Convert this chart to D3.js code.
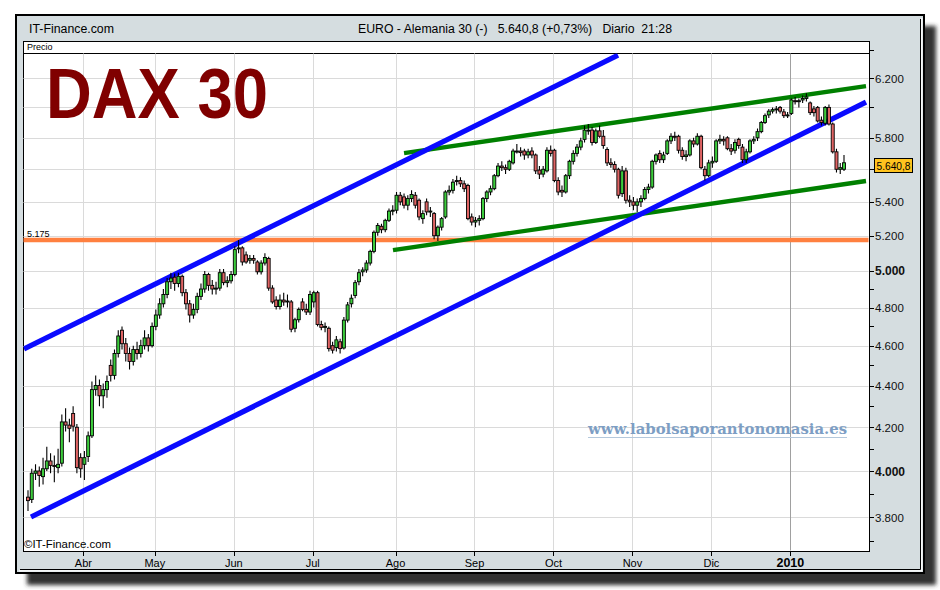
<!DOCTYPE html>
<html><head><meta charset="utf-8">
<script src="https://cdn.jsdelivr.net/npm/d3@7/dist/d3.min.js"></script>
<style>body{margin:0;background:#fff}svg{display:block}</style>
</head><body><svg id="c" width="940" height="590"></svg>
<script>
// ---------- DATA ----------
const monthLabels = ["Abr","May","Jun","Jul","Ago","Sep","Oct","Nov","Dic","2010"];
const monthStart  = [15,34,55,76,98,119,140,161,182,203];   // candle index of first session of each month
// daily candles [open, high, low, close]
const ohlc = [
// Mar
[3885,3915,3825,3870],[3875,4010,3860,3990],[3990,4030,3960,4000],[4000,4020,3930,3980],[3975,4060,3940,4010],
[4010,4110,4000,4045],[4045,4080,3990,4025],[4025,4070,3950,4020],[4015,4100,3990,4030],[4035,4260,4020,4225],
[4225,4290,4180,4210],[4210,4240,4130,4195],[4265,4300,4180,4205],[4200,4215,3990,4015],[4060,4080,3970,4010],
// Abr
[4030,4090,3960,4060],[4065,4180,4040,4160],[4160,4420,4150,4380],[4380,4450,4350,4400],[4400,4430,4300,4350],
[4350,4410,4290,4380],[4380,4450,4340,4420],[4500,4530,4420,4450],[4450,4580,4430,4560],[4560,4680,4540,4650],
[4680,4700,4580,4610],[4610,4640,4520,4560],[4560,4590,4480,4520],[4520,4600,4500,4580],[4580,4620,4530,4560],
[4560,4630,4540,4600],[4600,4680,4580,4640],[4640,4660,4570,4600],[4600,4720,4590,4700],
// May
[4700,4790,4680,4760],[4760,4850,4740,4820],[4820,4900,4800,4870],[4870,4960,4850,4940],[4940,4990,4900,4960],
[4965,4985,4890,4930],[4930,4990,4910,4970],[4970,4980,4860,4880],[4880,4900,4790,4820],[4820,4840,4720,4760],
[4760,4820,4740,4790],[4790,4880,4770,4860],[4860,4930,4840,4900],[4900,5000,4880,4980],[4980,4990,4890,4920],
[4920,4950,4870,4900],[4900,4940,4870,4905],[4905,5010,4890,4990],[4990,5010,4920,4935],[4935,4970,4910,4945],
[4945,5000,4930,4980],
// Jun
[4980,5140,4970,5120],[5125,5175,5100,5130],[5130,5140,5030,5050],[5090,5110,5040,5050],[5060,5090,5040,5070],
[5070,5090,5040,5060],[5050,5060,4980,4995],[4995,5060,4980,5044],[5044,5100,5030,5075],[5070,5080,4890,4905],
[4905,4920,4820,4830],[4840,4860,4790,4805],[4805,4870,4790,4840],[4840,4880,4810,4830],[4830,4870,4800,4835],
[4830,4840,4670,4685],[4690,4745,4670,4735],[4735,4800,4720,4790],[4830,4850,4780,4790],[4790,4820,4760,4776],
[4776,4890,4760,4870],
// Jul
[4830,4890,4800,4880],[4880,4890,4700,4710],[4710,4730,4680,4695],[4695,4720,4670,4700],[4690,4700,4570,4585],
[4600,4620,4560,4577],[4590,4650,4570,4630],[4620,4635,4560,4585],[4588,4750,4580,4733],[4733,4830,4720,4814],
[4820,4870,4800,4850],[4865,4950,4850,4935],[4940,5010,4920,4990],[4995,5020,4970,5005],[5005,5060,4990,5044],
[5044,5120,5030,5110],[5110,5230,5100,5220],[5220,5275,5200,5260],[5255,5270,5215,5235],[5235,5300,5220,5290],
[5290,5360,5280,5345],[5345,5380,5320,5350],
// Ago
[5350,5460,5330,5440],[5440,5460,5380,5400],[5430,5450,5360,5380],[5380,5440,5350,5420],[5420,5470,5400,5445],
[5440,5460,5360,5380],[5410,5420,5290,5310],[5300,5350,5270,5330],[5400,5420,5320,5340],[5345,5370,5310,5345],
[5330,5340,5180,5200],[5200,5260,5170,5250],[5250,5310,5230,5300],[5310,5470,5300,5460],[5460,5500,5440,5470],
[5470,5540,5450,5520],[5525,5560,5500,5530],[5530,5550,5490,5510],[5510,5530,5460,5480],[5500,5510,5290,5300],
[5310,5330,5260,5280],
// Sep
[5280,5310,5250,5290],[5290,5320,5260,5300],[5300,5430,5290,5420],[5420,5470,5400,5460],[5460,5500,5440,5480],
[5480,5570,5470,5560],[5560,5640,5550,5620],[5620,5650,5590,5610],[5610,5630,5570,5600],[5600,5660,5590,5650],
[5640,5730,5630,5715],[5715,5760,5700,5715],[5715,5740,5680,5705],[5715,5730,5660,5690],[5690,5730,5670,5710],
[5715,5740,5670,5690],[5690,5700,5570,5590],[5595,5620,5540,5570],[5570,5620,5550,5600],[5590,5740,5580,5720],
[5720,5750,5680,5700],
// Oct
[5720,5730,5520,5530],[5530,5550,5440,5460],[5470,5500,5430,5460],[5460,5570,5450,5560],[5560,5660,5540,5650],
[5650,5720,5630,5700],[5700,5760,5680,5740],[5740,5800,5720,5780],[5790,5880,5770,5850],[5850,5890,5820,5850],
[5850,5870,5750,5770],[5770,5860,5760,5845],[5845,5880,5800,5810],[5810,5850,5730,5750],[5725,5740,5620,5640],
[5640,5670,5610,5630],[5630,5650,5580,5600],[5600,5610,5420,5440],[5450,5620,5430,5590],[5590,5610,5390,5410],
[5410,5440,5370,5400],
// Nov
[5400,5430,5350,5380],[5380,5420,5340,5400],[5400,5440,5370,5420],[5420,5490,5410,5475],[5475,5510,5450,5490],
[5490,5660,5480,5650],[5650,5700,5630,5690],[5700,5720,5640,5660],[5660,5710,5640,5690],[5700,5790,5690,5780],
[5780,5830,5760,5810],[5810,5840,5780,5805],[5810,5820,5700,5720],[5720,5740,5660,5680],[5680,5720,5650,5690],
[5690,5790,5680,5780],[5780,5800,5740,5760],[5760,5830,5750,5810],[5810,5820,5600,5610],[5600,5620,5530,5560],
[5560,5660,5550,5640],
// Dic
[5640,5680,5610,5650],[5650,5790,5640,5780],[5780,5820,5760,5790],[5790,5810,5750,5780],[5800,5810,5720,5730],
[5730,5760,5690,5715],[5720,5790,5700,5770],[5790,5800,5730,5750],[5740,5760,5640,5660],[5660,5730,5640,5710],
[5710,5790,5700,5780],[5780,5810,5760,5790],[5800,5860,5780,5840],[5840,5910,5830,5900],[5900,5960,5890,5945],
[5950,5990,5930,5975],[5975,6000,5960,5985],[5985,6010,5960,5990],[6000,6010,5960,5975],[5970,5990,5930,5945],
[5945,5970,5930,5950],
// Ene 2010
[5960,6060,5950,6050],[6045,6070,6020,6040],[6040,6060,6000,6045],[6050,6080,6030,6060],[6060,6095,6040,6070],
[6030,6040,5950,5965],[5990,6010,5940,5965],[6000,6010,5900,5910],[5915,5940,5880,5900],[5895,6010,5880,6000],
[6000,6020,5880,5890],[5890,5900,5700,5710],[5710,5730,5580,5600],[5600,5640,5570,5610],[5600,5690,5590,5640.8]
];
const lastPriceLabel = "5.640,8";
const yLabelValues = [3800,4000,4200,4400,4600,4800,5000,5200,5400,5800,6200];
const yBoldValues  = [4000,5000];
const yTickValues  = [3700,3800,3900,4000,4100,4200,4300,4400,4500,4600,4700,4800,4900,5000,5200,5400,5600,5800,6000,6200,6400];
const yGridValues  = [3800,4000,4200,4400,4600,4800,5000,5200,5400,5600,5800,6000,6200];
// drawn annotations: [candle index, price]
const blueUpper  = [[-1.06,4583],[156.9,6360]];
const blueLower  = [[0.8,3800],[222.85,6035]];
const greenUpper = [[100,5702],[222.85,6144]];
const greenLower = [[97.06,5117],[222.85,5527]];
const supportLevel = 5175;
const supportLabel = "5.175";

// ---------- LAYOUT ----------
const svg = d3.select('#c');
const P = {l:23, r:869, top:41, hdr:53, b:551};
const x = d3.scaleLinear().domain([0, ohlc.length-1]).range([28, 844]);
const y = d3.scaleLog().domain([3800, 6200]).range([517, 78]);
const fmt = v => d3.format(",")(v).replace(/,/g, ".");

const defs = svg.append('defs');
defs.append('filter').attr('id','blur').attr('x','-5%').attr('y','-5%').attr('width','110%').attr('height','110%')
  .append('feGaussianBlur').attr('stdDeviation',2.2);
defs.append('clipPath').attr('id','clip').append('rect')
  .attr('x',P.l+0.5).attr('y',P.hdr+0.5).attr('width',P.r-P.l-1).attr('height',P.b-P.hdr-1);

// shadow + frame
svg.append('rect').attr('x',27).attr('y',26).attr('width',909).attr('height',559)
  .attr('fill','#333').attr('filter','url(#blur)');
svg.append('rect').attr('x',16).attr('y',15).attr('width',908).attr('height',558)
  .attr('fill','#d5dde0').attr('stroke','#000').attr('stroke-width',2);
svg.append('path').attr('d','M920.5,19 V569.5 H20').attr('fill','none').attr('stroke','#000').attr('stroke-width',1);
svg.append('path').attr('d','M921.8,18 V570.8 H19').attr('fill','none').attr('stroke','#fff').attr('stroke-width',1.2);

// header texts
svg.append('text').attr('x',29).attr('y',33).attr('font-family','Liberation Sans Narrow, Arial Narrow, Liberation Sans, Arial, sans-serif')
  .attr('font-size',12.5).attr('textLength',85).attr('lengthAdjust','spacingAndGlyphs').attr('fill','#000').text('IT-Finance.com');
svg.append('text').attr('x',358).attr('y',33).attr('style','white-space:pre')
  .attr('font-family','Liberation Sans Narrow, Arial Narrow, Liberation Sans, Arial, sans-serif')
  .attr('font-size',12.5).attr('textLength',314).attr('lengthAdjust','spacingAndGlyphs').attr('fill','#000')
  .text('EURO - Alemania 30 (-)   5.640,8 (+0,73%)   Diario  21:28');

// plot panel
svg.append('rect').attr('x',P.l+0.5).attr('y',P.top+0.5).attr('width',P.r-P.l).attr('height',P.b-P.top)
  .attr('fill','#fff').attr('stroke','#000').attr('stroke-width',1);
svg.append('line').attr('x1',P.l).attr('x2',P.r).attr('y1',P.hdr+0.5).attr('y2',P.hdr+0.5).attr('stroke','#000');
svg.append('text').attr('x',27).attr('y',50).attr('font-family','Liberation Sans, Arial, sans-serif')
  .attr('font-size',9).attr('fill','#000').text('Precio');

const g = svg.append('g').attr('clip-path','url(#clip)');
// grid
g.selectAll('.hg').data(yGridValues).join('line')
  .attr('x1',P.l).attr('x2',P.r).attr('y1',d=>Math.round(y(d))+0.5).attr('y2',d=>Math.round(y(d))+0.5)
  .attr('stroke','#dadada').attr('stroke-width',1);
g.selectAll('.vg').data(monthStart).join('line')
  .attr('x1',d=>Math.round(x(d)-1)+0.5).attr('x2',d=>Math.round(x(d)-1)+0.5).attr('y1',P.hdr).attr('y2',P.b)
  .attr('stroke',(d,i)=> monthLabels[i]==='2010' ? '#a0a0a0' : '#dadada').attr('stroke-width',1);

// annotation lines
const line = d3.line().x(d=>x(d[0])).y(d=>y(d[1]));
g.append('line').attr('x1',P.l).attr('x2',P.r).attr('y1',y(supportLevel)).attr('y2',y(supportLevel))
  .attr('stroke','#ff8040').attr('stroke-width',4.5);
[[greenUpper,'#008000',4.4],[greenLower,'#008000',4.4],[blueUpper,'#0a0aff',5.2],[blueLower,'#0a0aff',5.2]].forEach(([d,c,w])=>{
  g.append('path').attr('d',line(d)).attr('fill','none').attr('stroke',c).attr('stroke-width',w);
});

// candles
const cg = g.append('g');
const bw = 3;
ohlc.forEach((d,i)=>{
  const [o,h,l,c] = d; const cx = x(i);
  cg.append('line').attr('x1',cx).attr('x2',cx).attr('y1',y(h)).attr('y2',y(l)).attr('stroke','#000').attr('stroke-width',1.1);
  const top = y(Math.max(o,c)), bot = y(Math.min(o,c));
  cg.append('rect').attr('x',cx-bw/2).attr('y',top).attr('width',bw).attr('height',Math.max(bot-top,1))
    .attr('fill', c>=o ? '#3ccc3c' : '#e06464').attr('stroke','#000').attr('stroke-width',0.9);
});

// support label
svg.append('text').attr('x',27).attr('y',y(supportLevel)-3).attr('font-family','Liberation Sans, Arial, sans-serif')
  .attr('font-size',9).attr('fill','#000').text(supportLabel);

// title
svg.append('text').attr('x',46).attr('y',118).attr('font-family','Liberation Sans, Arial, sans-serif')
  .attr('font-weight','bold').attr('font-size',70).attr('textLength',222).attr('lengthAdjust','spacingAndGlyphs')
  .attr('fill','#800000').text('DAX 30');

// watermark
svg.append('text').attr('x',588).attr('y',434).attr('font-family','DejaVu Serif, Liberation Serif, serif')
  .attr('font-weight','bold').attr('font-size',14).attr('textLength',259).attr('lengthAdjust','spacingAndGlyphs')
  .attr('fill','#7d9ec4').text('www.labolsaporantonomasia.es');
svg.append('line').attr('x1',588).attr('x2',847).attr('y1',437.5).attr('y2',437.5).attr('stroke','#b4c8dc').attr('stroke-width',1);

// copyright
svg.append('text').attr('x',24).attr('y',548).attr('font-family','Liberation Sans Narrow, Arial Narrow, Liberation Sans, Arial, sans-serif')
  .attr('font-size',10.5).attr('textLength',87).attr('lengthAdjust','spacingAndGlyphs').attr('fill','#000').text('©IT-Finance.com');

// right axis
svg.selectAll('.yt').data(yTickValues).join('line')
  .attr('x1',P.r).attr('x2',P.r+5).attr('y1',d=>Math.round(y(d))+0.5).attr('y2',d=>Math.round(y(d))+0.5)
  .attr('stroke','#000').attr('stroke-width',1);
svg.selectAll('.yl').data(yLabelValues).join('text')
  .attr('x',P.r+6).attr('y',d=>y(d)+4.5)
  .attr('font-family','Liberation Sans, Arial, sans-serif')
  .attr('font-size',d=>yBoldValues.includes(d)?12:11.5)
  .attr('font-weight',d=>yBoldValues.includes(d)?'bold':'normal')
  .attr('fill','#111').text(d=>fmt(d));

// last price box
const lastY = y(ohlc[ohlc.length-1][3]);
svg.append('rect').attr('x',874.5).attr('y',Math.round(lastY-5)+0.5).attr('width',38).attr('height',14)
  .attr('fill','#ffc31e').attr('stroke','#000').attr('stroke-width',1);
svg.append('text').attr('x',876.5).attr('y',Math.round(lastY-5)+12).attr('font-family','Liberation Sans, Arial, sans-serif')
  .attr('font-size',11).attr('textLength',34).attr('lengthAdjust','spacingAndGlyphs').attr('fill','#000').text(lastPriceLabel);

// bottom axis
svg.selectAll('.xt').data(monthStart).join('line')
  .attr('x1',d=>Math.round(x(d)-1)+0.5).attr('x2',d=>Math.round(x(d)-1)+0.5).attr('y1',P.b).attr('y2',P.b+5)
  .attr('stroke','#000');
svg.selectAll('.xl').data(monthStart).join('text')
  .attr('x',d=>x(d)-1).attr('y',567).attr('text-anchor','middle')
  .attr('font-family','Liberation Sans Narrow, Arial Narrow, Liberation Sans, Arial, sans-serif')
  .attr('font-size',(d,i)=>monthLabels[i]==='2010'?12.5:11)
  .attr('font-weight',(d,i)=>monthLabels[i]==='2010'?'bold':'normal')
  .attr('fill','#000').text((d,i)=>monthLabels[i]);
</script></body></html>
